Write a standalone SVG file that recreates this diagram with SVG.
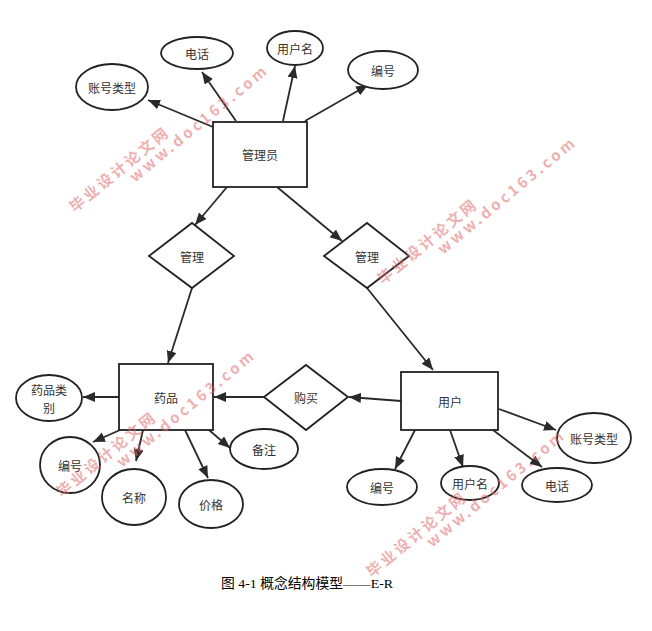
<svg xmlns="http://www.w3.org/2000/svg" xmlns:xlink="http://www.w3.org/1999/xlink" width="652" height="631" viewBox="0 0 652 631">
<style>
.shape{fill:#fff;stroke:#222;stroke-width:1.8}
.lbl{font-family:"Noto Sans CJK SC","Noto Sans",sans-serif;font-size:12px;fill:#333;text-anchor:middle;dominant-baseline:central}
.edge{stroke:#2a2a2a;stroke-width:1.8;fill:none;marker-end:url(#arr)}
.wm{font-family:"Noto Sans CJK SC","DejaVu Sans",sans-serif;font-weight:bold;font-size:15px;fill:#e06a6a;fill-opacity:0.55}
.cap{font-family:"Liberation Serif","Noto Sans CJK SC",serif;font-size:13.5px;fill:#000}
</style>
<defs>
<marker id="arr" markerUnits="userSpaceOnUse" markerWidth="13" markerHeight="11" refX="12" refY="5" orient="auto">
<path d="M0,0 L12,5 L0,10 z" fill="#2a2a2a"/>
</marker>
<g id="wmark">
<text class="wm" transform="translate(75,213) rotate(-39.5)" textLength="122" lengthAdjust="spacing">毕业设计论文网</text>
<text class="wm" transform="translate(135,183) rotate(-39.5)" textLength="172" lengthAdjust="spacing">www.doc163.com</text>
</g>
</defs>
<rect width="652" height="631" fill="#fff"/>

<g id="connectors">
<line class="edge" x1="213" y1="127" x2="148" y2="100"/>
<line class="edge" x1="236" y1="121" x2="202" y2="72"/>
<line class="edge" x1="283" y1="121" x2="295" y2="66"/>
<line class="edge" x1="305" y1="121" x2="368" y2="85"/>
<line class="edge" x1="227" y1="187" x2="195" y2="225"/>
<line class="edge" x1="277" y1="187" x2="342" y2="241"/>
<line class="edge" x1="192" y1="288" x2="168" y2="363"/>
<line class="edge" x1="367" y1="288" x2="433" y2="370"/>
<line class="edge" x1="401" y1="401" x2="349" y2="397"/>
<line class="edge" x1="264" y1="397" x2="214" y2="397"/>
<line class="edge" x1="119" y1="397" x2="83" y2="397"/>
<line class="edge" x1="120" y1="430" x2="93" y2="442"/>
<line class="edge" x1="143" y1="430" x2="136" y2="461"/>
<line class="edge" x1="185" y1="430" x2="208" y2="478"/>
<line class="edge" x1="209" y1="430" x2="230" y2="448"/>
<line class="edge" x1="499" y1="409" x2="556" y2="430"/>
<line class="edge" x1="415" y1="430" x2="395" y2="469"/>
<line class="edge" x1="450" y1="430" x2="463" y2="467"/>
<line class="edge" x1="493" y1="430" x2="542" y2="467"/>
</g>

<g id="admin"><rect class="shape" x="213" y="122" width="94" height="65"/><text class="lbl" x="260" y="154">管理员</text></g>
<g id="admin-acctype"><ellipse class="shape" cx="112" cy="87" rx="36" ry="23"/><text class="lbl" x="112" y="87">账号类型</text></g>
<g id="admin-phone"><ellipse class="shape" cx="197" cy="53" rx="36" ry="16"/><text class="lbl" x="197" y="53">电话</text></g>
<g id="admin-username"><ellipse class="shape" cx="295" cy="48" rx="28" ry="17"/><text class="lbl" x="295" y="48">用户名</text></g>
<g id="admin-id"><ellipse class="shape" cx="383" cy="70" rx="35" ry="19"/><text class="lbl" x="383" y="70">编号</text></g>

<g id="manage-left"><polygon class="shape" points="149,256 192,223 234,256 192,288"/><text class="lbl" x="192" y="256">管理</text></g>
<g id="manage-right"><polygon class="shape" points="324,256 367,223 409,256 367,288"/><text class="lbl" x="367" y="256">管理</text></g>

<g id="drug"><rect class="shape" x="119" y="364" width="94" height="66"/><text class="lbl" x="166" y="397">药品</text></g>
<g id="drug-category"><ellipse class="shape" cx="49" cy="398" rx="33" ry="23"/><text class="lbl" x="49" y="389.5">药品类</text><text class="lbl" x="49" y="407">别</text></g>
<g id="drug-id"><ellipse class="shape" cx="70" cy="465" rx="30" ry="28"/><text class="lbl" x="70" y="465">编号</text></g>
<g id="drug-name"><ellipse class="shape" cx="134" cy="497" rx="32" ry="28"/><text class="lbl" x="134" y="497">名称</text></g>
<g id="drug-price"><ellipse class="shape" cx="211" cy="504" rx="32" ry="24"/><text class="lbl" x="211" y="504">价格</text></g>
<g id="drug-note"><ellipse class="shape" cx="264" cy="449" rx="34" ry="20"/><text class="lbl" x="264" y="449">备注</text></g>

<g id="buy"><polygon class="shape" points="264,397 306,365 348,397 306,430"/><text class="lbl" x="306" y="397">购买</text></g>

<g id="user"><rect class="shape" x="401" y="372" width="97" height="58"/><text class="lbl" x="450" y="401">用户</text></g>
<g id="user-acctype"><ellipse class="shape" cx="594" cy="438" rx="37" ry="25"/><text class="lbl" x="594" y="438">账号类型</text></g>
<g id="user-id"><ellipse class="shape" cx="382" cy="487" rx="35" ry="18"/><text class="lbl" x="382" y="487">编号</text></g>
<g id="user-username"><ellipse class="shape" cx="470" cy="483" rx="29" ry="17"/><text class="lbl" x="470" y="483">用户名</text></g>
<g id="user-phone"><ellipse class="shape" cx="557" cy="485" rx="35" ry="17"/><text class="lbl" x="557" y="485">电话</text></g>

<text class="cap" x="221" y="588" textLength="172" lengthAdjust="spacingAndGlyphs">图 4-1 概念结构模型——E-R</text>

<g id="watermarks">
<use xlink:href="#wmark"/>
<use xlink:href="#wmark" transform="translate(308,72)"/>
<use xlink:href="#wmark" transform="translate(-13,285)"/>
<use xlink:href="#wmark" transform="translate(297,365)"/>
</g>
</svg>
